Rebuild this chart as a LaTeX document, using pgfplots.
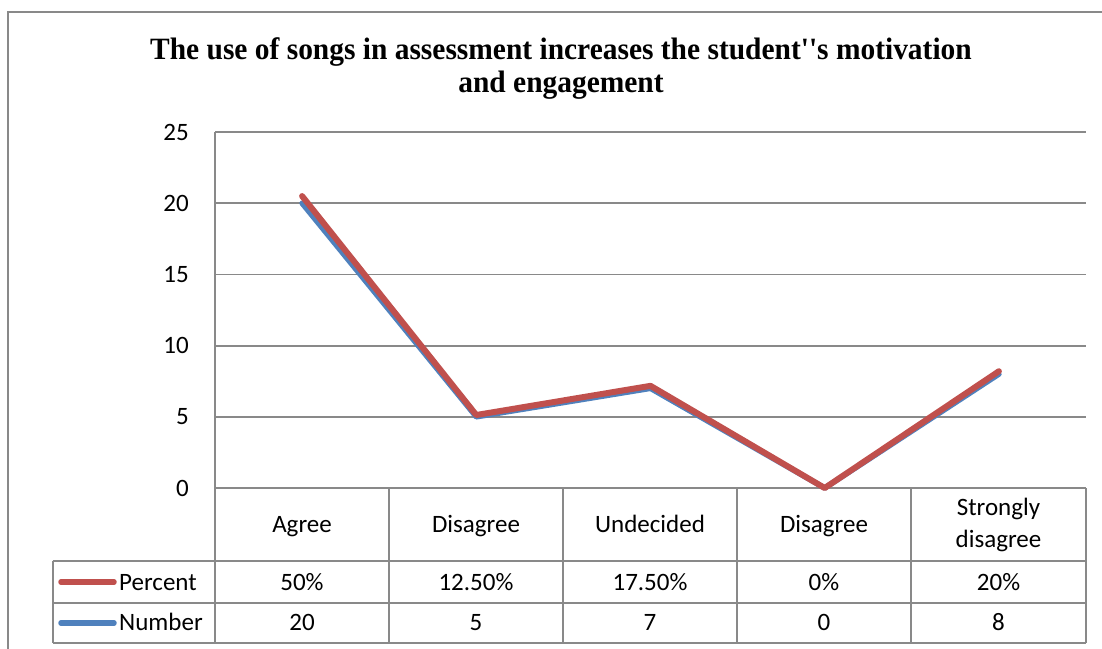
\documentclass[border=0pt]{standalone}
\usepackage{pgfplots}
\pgfplotsset{compat=1.18}
\usepackage{fontspec}
\setmainfont{Carlito}
\newfontfamily\titlefont[Ligatures=TeXOff, FakeStretch=0.95]{Liberation Serif}
\definecolor{xred}{HTML}{C0504D}
\definecolor{xblue}{HTML}{4F81BD}
\definecolor{xgrid}{HTML}{898989}
\newcommand{\lbl}{\fontsize{25}{31}\selectfont}
\begin{document}
\begin{tikzpicture}
\clip (0pt,0pt) rectangle (1102pt,-648pt);
\fill[white] (0pt,0pt) rectangle (1102pt,-648pt);
\draw[xgrid, line width=2pt] (7.5pt,-700pt) -- (7.5pt,-11.5pt) -- (1200pt,-11.5pt);
\node[font=\titlefont\bfseries\fontsize{31}{33}\selectfont, align=center, anchor=base] at (561pt,-92pt)
  {The use of songs in assessment increases the student''s motivation\\and engagement};
\begin{axis}[at={(215pt,-488pt)}, anchor=south west, scale only axis,
  width=871pt, height=356pt,
  xmin=0, xmax=5, ymin=0, ymax=25, ytick={0,5,10,15,20,25}, xtick=\empty,
  ymajorgrids, grid style={xgrid, line width=1.8pt},
  axis line style={draw=none}, major tick length=0pt,
  /pgf/number format/assume math mode=true,
  yticklabel style={font=\lbl, anchor=east, inner sep=0pt, xshift=-26pt},
  clip=false]
\addplot[xblue, line width=5.5pt, line cap=round, line join=round] coordinates {(0.5,20) (1.5,5) (2.5,7) (3.5,0) (4.5,8)};
\addplot[xred, line width=6pt, line cap=round, line join=round] coordinates {(0.5,20.5) (1.5,5.125) (2.5,7.175) (3.5,0) (4.5,8.2)};
\end{axis}
\begin{scope}[xgrid, line width=1.8pt]
\draw (215pt,-132pt) -- (215pt,-643pt);
\foreach \x in {389,563,737,911,1086} \draw (\x pt,-488pt) -- (\x pt,-643pt);
\draw (52.7pt,-561pt) -- (1086pt,-561pt);
\draw (52.7pt,-603pt) -- (1086pt,-603pt);
\draw (52.7pt,-643pt) -- (1086pt,-643pt);
\draw (52.7pt,-561pt) -- (52.7pt,-643pt);
\end{scope}
\draw[xred, line width=5.5pt, line cap=round] (61pt,-582pt) -- (114pt,-582pt);
\draw[xblue, line width=5.5pt, line cap=round] (61pt,-623pt) -- (114pt,-623pt);
\node[font=\lbl, anchor=base west, inner sep=0pt] at (119pt,-590pt) {Percent};
\node[font=\lbl, anchor=base west, inner sep=0pt] at (119pt,-630pt) {Number};
\foreach \x/\t in {302/Agree, 476/Disagree, 650/Undecided, 824/Disagree}
  \node[font=\lbl, anchor=base, inner sep=0pt] at (\x pt,-532pt) {\t};
\node[font=\lbl, anchor=base, inner sep=0pt] at (998.5pt,-515pt) {Strongly};
\node[font=\lbl, anchor=base, inner sep=0pt] at (998.5pt,-547pt) {disagree};
\foreach \x/\t in {302/50\%, 476/12.50\%, 650/17.50\%, 824/0\%, 998.5/20\%}
  \node[font=\lbl, anchor=base, inner sep=0pt] at (\x pt,-590pt) {\t};
\foreach \x/\t in {302/20, 476/5, 650/7, 824/0, 998.5/8}
  \node[font=\lbl, anchor=base, inner sep=0pt] at (\x pt,-630pt) {\t};
\end{tikzpicture}
\end{document}
